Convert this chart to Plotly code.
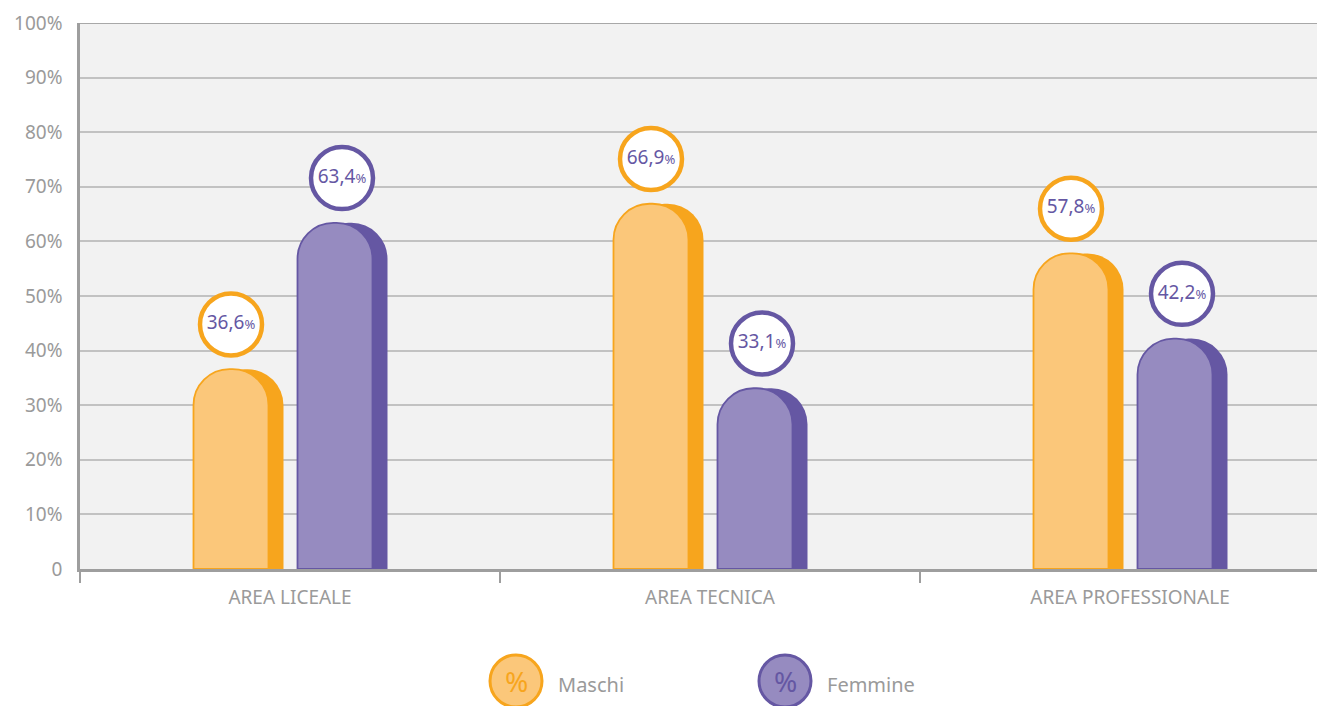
import plotly.graph_objects as go

categories = ["AREA LICEALE", "AREA TECNICA", "AREA PROFESSIONALE"]
maschi = [36.6, 66.9, 57.8]
femmine = [63.4, 33.1, 42.2]
y_ticks = [0, 10, 20, 30, 40, 50, 60, 70, 80, 90, 100]
y_ticktext = ["0"] + [f"{v}%" for v in y_ticks[1:]]

ORANGE_LIGHT = "#fbc77a"
ORANGE = "#f7a51d"
PURPLE_LIGHT = "#968bc0"
PURPLE = "#6557a3"
GRID = "#c2c2c2"
AXIS = "#9e9e9e"
TEXT_GREY = "#9a9a9a"
FONT = "Noto Sans"

# page body has an 8px margin, so the figure is a bit smaller than the window
FIG_W, FIG_H = 1317, 698
M_L, M_T, M_B = 72, 15, 137
PLOT_W = FIG_W - M_L
PLOT_H = FIG_H - M_T - M_B

PX_PER_UNIT = 420.0
BAR_W = 75 / PX_PER_UNIT
SIDE = 15 / PX_PER_UNIT
LABEL_LIFT = 8.2

x_idx = list(range(len(categories)))


def fmt_label(v):
    s = f"{v:.1f}".replace(".", ",")
    return f"{s}<span style='font-size:13px'>%</span>"


fig = go.Figure()

series = [
    ("Maschi", maschi, ORANGE_LIGHT, ORANGE, -96.5 / PX_PER_UNIT, -59.0 / PX_PER_UNIT),
    ("Femmine", femmine, PURPLE_LIGHT, PURPLE, 7.5 / PX_PER_UNIT, 52.0 / PX_PER_UNIT),
]

for name, vals, light, dark, off, circ_off in series:
    # darker side (3D effect)
    fig.add_trace(go.Bar(
        x=x_idx, y=vals, offset=off + SIDE, width=BAR_W,
        marker=dict(color=dark, line=dict(width=0), cornerradius=36),
        hoverinfo="skip", showlegend=False,
    ))
    # front face
    fig.add_trace(go.Bar(
        x=x_idx, y=vals, offset=off, width=BAR_W, name=name,
        marker=dict(color=light, line=dict(width=1.8, color=dark), cornerradius=36),
        hoverinfo="skip", showlegend=False,
    ))

for name, vals, light, dark, off, circ_off in series:
    fig.add_trace(go.Scatter(
        x=[i + circ_off for i in x_idx],
        y=[v + LABEL_LIFT for v in vals],
        mode="markers+text",
        marker=dict(size=62, color="white", line=dict(width=4.5, color=dark)),
        text=[fmt_label(v) for v in vals],
        textposition="middle center",
        textfont=dict(family=FONT, size=19, color=PURPLE),
        hoverinfo="skip", showlegend=False,
    ))

# custom legend below the plot
legend_items = [("Maschi", ORANGE_LIGHT, ORANGE, 516), ("Femmine", PURPLE_LIGHT, PURPLE, 785)]
shapes = [dict(type="line", xref="paper", yref="y", x0=0, x1=1, y0=100, y1=100,
               line=dict(color="#a8a8a8", width=2))]
annotations = []
for label, fill, edge, cx in legend_items:
    xp = (cx - 8 - M_L) / PLOT_W
    yp = (M_T + PLOT_H - (681 - 8)) / PLOT_H
    shapes.append(dict(type="circle", xref="paper", yref="paper",
                       xsizemode="pixel", ysizemode="pixel",
                       xanchor=xp, yanchor=yp, x0=-26, x1=26, y0=-26, y1=26,
                       fillcolor=fill, line=dict(color=edge, width=3)))
    annotations.append(dict(xref="paper", yref="paper", x=xp, y=yp, text="%",
                            showarrow=False, xanchor="center", yanchor="middle",
                            font=dict(family=FONT, size=28, color=edge)))
    annotations.append(dict(xref="paper", yref="paper", x=xp, y=yp, xshift=40, yshift=-3,
                            text=label, showarrow=False, xanchor="left", yanchor="middle",
                            font=dict(family=FONT, size=20, color=TEXT_GREY)))

fig.update_layout(
    width=FIG_W, height=FIG_H,
    margin=dict(l=M_L, r=0, t=M_T, b=M_B),
    barmode="overlay",
    plot_bgcolor="#f2f2f2",
    paper_bgcolor="white",
    showlegend=False,
    shapes=shapes,
    annotations=annotations,
    font=dict(family=FONT, color=TEXT_GREY),
)
fig.update_xaxes(
    range=[-0.5, -0.5 + PLOT_W / PX_PER_UNIT],
    tickmode="array", tickvals=x_idx, ticktext=categories,
    ticks="", showgrid=False, zeroline=False,
    showline=True, linecolor=AXIS, linewidth=3,
    tickfont=dict(family=FONT, size=19, color=TEXT_GREY),
    minor=dict(tickvals=[-0.5, 0.5, 1.5, 2.5], ticks="outside", ticklen=11,
               tickwidth=2, tickcolor=AXIS, showgrid=False),
    ticklabelstandoff=9,
)
fig.update_yaxes(
    range=[0, 100],
    tickmode="array", tickvals=y_ticks, ticktext=y_ticktext,
    showgrid=True, gridcolor=GRID, gridwidth=1.5,
    zeroline=False, showline=True, linecolor=AXIS, linewidth=2.5,
    ticks="", ticklabelstandoff=11,
    tickfont=dict(family=FONT, size=19, color=TEXT_GREY),
)

fig.write_html("out.html")
